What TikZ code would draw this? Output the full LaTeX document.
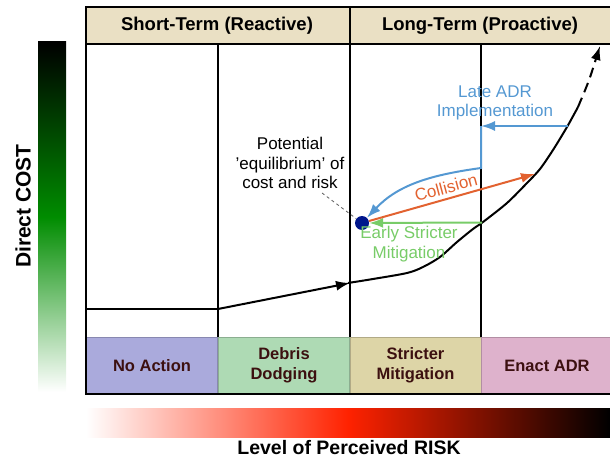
\documentclass[tikz,border=0pt]{standalone}
\usepackage{fontspec}
\setmainfont{Liberation Sans}
\usetikzlibrary{positioning,arrows.meta}

\definecolor{headtan}{RGB}{234,224,196}
\definecolor{noactcol}{RGB}{170,170,220}
\definecolor{dodgecol}{RGB}{174,218,180}
\definecolor{mitigcol}{RGB}{221,213,167}
\definecolor{adrcol}{RGB}{222,178,204}
\definecolor{boxtext}{RGB}{60,16,16}
\definecolor{costgreen}{RGB}{0,140,0}
\definecolor{riskred}{RGB}{255,34,0}
\definecolor{earlygreen}{RGB}{120,204,104}
\definecolor{collorange}{RGB}{226,98,48}
\definecolor{lateblue}{RGB}{84,152,210}
\definecolor{dotblue}{RGB}{0,22,140}

\tikzset{
  >={Latex[length=14pt,width=10pt]},
  colbox/.style={minimum width=131pt,minimum height=57pt,inner sep=0pt,
    align=center,text=boxtext,font=\bfseries\fontsize{16.5}{20}\selectfont},
  headtext/.style={font=\bfseries\fontsize{18.5}{22}\selectfont},
  arrowtext/.style={align=center,font=\fontsize{17}{19.5}\selectfont},
}

\begin{document}
\begin{tikzpicture}[x=1pt,y=1pt]
  \useasboundingbox (0,0) rectangle (610,459);

  % header
  \draw[line width=1.5pt,fill=headtan] (86,415) rectangle (612,452);
  \draw[line width=1.5pt] (350,415) -- (350,452);
  \node[headtext] (shortterm) at (217,433.5) {Short-Term (Reactive)};
  \node[headtext] (longterm) at (480,433.5) {Long-Term (Proactive)};

  % action boxes
  \node[colbox,fill=noactcol,draw=noactcol!80!black] (noaction) at (152,93.5) {No Action};
  \node[colbox,fill=dodgecol,draw=dodgecol!80!black] (dodging) at (284,93.5) {Debris\\Dodging};
  \node[colbox,fill=mitigcol,draw=mitigcol!80!black] (mitigation) at (415.5,93.5) {Stricter\\Mitigation};
  \node[colbox,fill=adrcol,draw=adrcol!80!black,minimum width=132pt] (enactadr) at (547,93.5) {Enact ADR};

  % frame and columns
  \draw[line width=1.5pt] (612,65) -- (86,65) -- (86,415);
  \foreach \x in {218,350,481}
    \draw[line width=1.5pt] (\x,122) -- (\x,415);

  % cost bar
  \shade[top color=black,bottom color=white,middle color=costgreen] (38,67) rectangle (66,417);
  \node[rotate=90,font=\bfseries\fontsize{21}{24}\selectfont] (cost) at (23,253) {Direct COST};

  % risk bar
  \shade[left color=white,right color=black,middle color=riskred] (86,22) rectangle (610,51);
  \node[font=\bfseries\fontsize{19.5}{22}\selectfont] (risk) at (349,11) {Level of Perceived RISK};

  % cost/risk path
  \draw[line width=2pt] (86,150) -- (218,150);
  \draw[line width=2pt,->] (218,150) -- (350,176);
  \draw[line width=2pt] plot[smooth] coordinates {(348,176) (373,180) (407,186) (423,192)
    (440,202) (457,217) (473,230) (483,237) (507,256) (527,276) (540,290) (553,309)
    (567,332) (578,352)};
  \draw[line width=2pt,dash pattern=on 10pt off 6pt,->] (578,352) .. controls (589,378) .. (600,413);

  % equilibrium
  \node[circle,fill=dotblue,minimum size=14pt,inner sep=0pt] (dot) at (362,236) {};
  \node[arrowtext] (equil) at (290,296) {Potential\\'equilibrium' of\\cost and risk};
  \coordinate (eqend) at (322,266);
  \draw[dashed,gray!70!black,line width=0.8pt] (eqend) -- (dot);

  % early mitigation
  \coordinate (early) at (482,236.5);
  \draw[earlygreen,line width=2pt,->] (early) -- (dot);
  \node[arrowtext,text=earlygreen] (earlytxt) at (409,215) {Early Stricter\\Mitigation};

  % collision
  \coordinate (coll) at (535,285);
  \draw[collorange,line width=2pt,->] (dot) -- (coll);
  \node[arrowtext,text=collorange,rotate=15] (colltxt) at (446,271.5) {Collision};

  % late ADR
  \coordinate (late) at (568,333);
  \coordinate (latecorner) at (481,333);
  \coordinate (latebend) at (481,291);
  \draw[lateblue,line width=2pt,->] (late) -- (latecorner);
  \draw[lateblue,line width=2pt,->] (latecorner) -- (latebend)
    .. controls (430,284) and (398,274) .. (dot);
  \node[arrowtext,text=lateblue] (latetxt) at (495,356) {Late ADR\\Implementation};
\end{tikzpicture}
\end{document}
